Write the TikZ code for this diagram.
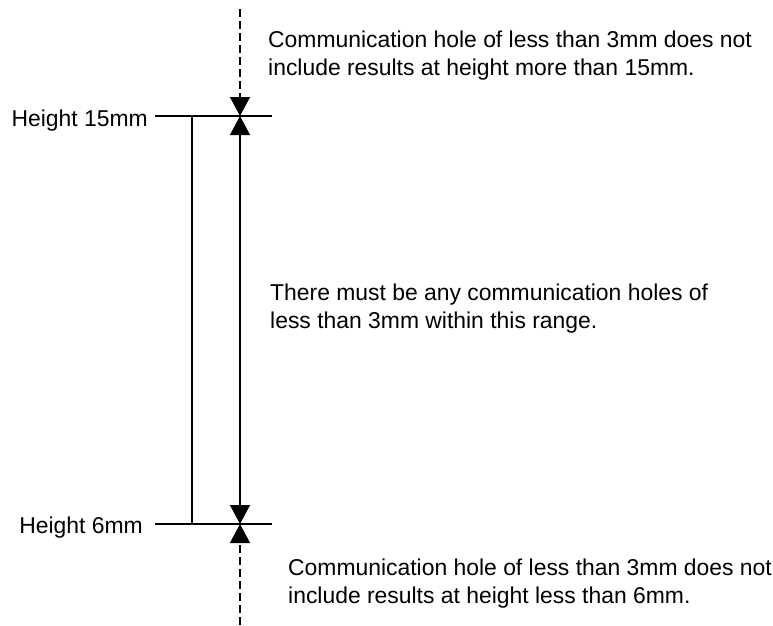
\documentclass[tikz,border=0pt]{standalone}
\usepackage{fontspec}
\setmainfont{Liberation Sans}
\usetikzlibrary{arrows.meta}
\begin{document}
\begin{tikzpicture}[x=1pt,y=-1pt,
  txt/.style={font=\fontsize{22.9}{28}\selectfont, inner sep=0pt, align=left},
  tip/.style={-{Triangle[width=20pt,length=19pt]}},
  dash line/.style={line width=1.4pt, dash pattern=on 8pt off 4pt},
  thick line/.style={line width=1.8pt}]
\useasboundingbox (0,0) rectangle (773,625);
% reference lines
\coordinate (tl) at (155,116); \coordinate (tr) at (272,116);
\coordinate (bl) at (155,524); \coordinate (br) at (272,524);
\coordinate (tv) at (192,116); \coordinate (bv) at (192,524);
\coordinate (ta) at (240,116); \coordinate (ba) at (240,524);
\coordinate (dtop) at (240,9); \coordinate (dbot) at (240,625);
\draw[thick line] (tl) -- (tr);
\draw[thick line] (bl) -- (br);
\draw[thick line] (tv) -- (bv);
\draw[line width=1.4pt, {Triangle[width=20pt,length=19pt]}-{Triangle[width=20pt,length=19pt]}] (ta) -- (ba);
\draw[dash line, tip] (dtop) -- (ta);
\draw[dash line, tip] (dbot) -- (ba);
% labels
\node[txt, anchor=base east] (h15) at (148,126) {Height 15mm};
\node[txt, anchor=base east] (h6) at (143,533) {Height 6mm};
\node[txt, anchor=base west] (t1) at (268,75) {Communication hole of less than 3mm does not\\include results at height more than 15mm.};
\node[txt, anchor=base west] (t2) at (270,328) {There must be any communication holes of\\less than 3mm within this range.};
\node[txt, anchor=base west] (t3) at (288,603) {Communication hole of less than 3mm does not\\include results at height less than 6mm.};
\end{tikzpicture}
\end{document}
